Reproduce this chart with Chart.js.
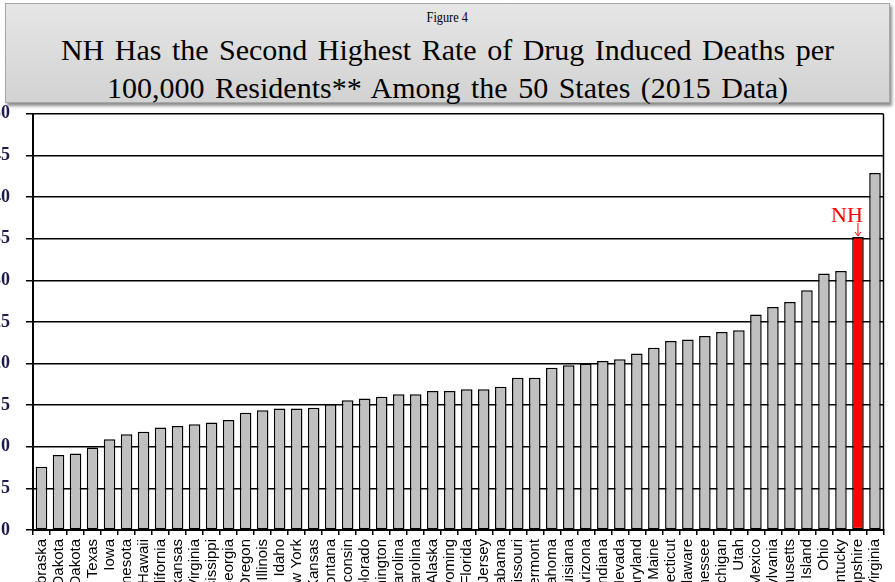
<!DOCTYPE html>
<html>
<head>
<meta charset="utf-8">
<script src="https://cdn.jsdelivr.net/npm/chart.js@4/dist/chart.umd.min.js"></script>
<style>
  html, body { margin: 0; padding: 0; width: 895px; height: 582px; overflow: hidden; background: #fff; }
  #title {
    position: absolute; left: 5px; top: 3px; width: 883px; height: 98px;
    background: linear-gradient(#e6e6e6, #d2d2d2);
    border: 1px solid #a8a8a8;
    box-shadow: 2px 3px 3px rgba(0,0,0,0.45);
    font-family: "Liberation Serif", "DejaVu Serif", serif; color: #000; text-align: center;
  }
  #fig { position: absolute; left: 0; right: 0; top: 5px; font-size: 15px; line-height: 17px; }
  #fig span { display: inline-block; transform: scaleX(0.82); }
  .t { position: absolute; left: 0; right: 0; font-size: 30px; line-height: 34px; word-spacing: 3px; white-space: nowrap; }
  #t1 { top: 29px; }
  #t2 { top: 67px; }
  #wrap { position: absolute; left: -20px; top: 87px; width: 917px; height: 543px; }
</style>
</head>
<body>
<div id="title">
  <div id="fig"><span>Figure 4</span></div>
  <div class="t" id="t1">NH Has the Second Highest Rate of Drug Induced Deaths per</div>
  <div class="t" id="t2">100,000 Residents** Among the 50 States (2015 Data)</div>
</div>
<div id="wrap"><canvas id="c" width="917" height="543"></canvas></div>
<script>
// Drug induced deaths per 100,000 residents, 2015, sorted ascending
const states = [
  'Nebraska', 'North Dakota', 'South Dakota', 'Texas', 'Iowa', 'Minnesota', 'Hawaii',
  'California', 'Arkansas', 'Virginia', 'Mississippi', 'Georgia', 'Oregon', 'Illinois',
  'Idaho', 'New York', 'Kansas', 'Montana', 'Wisconsin', 'Colorado', 'Washington',
  'North Carolina', 'South Carolina', 'Alaska', 'Wyoming', 'Florida', 'New Jersey',
  'Alabama', 'Missouri', 'Vermont', 'Oklahoma', 'Louisiana', 'Arizona', 'Indiana',
  'Nevada', 'Maryland', 'Maine', 'Connecticut', 'Delaware', 'Tennessee', 'Michigan',
  'Utah', 'New Mexico', 'Pennsylvania', 'Massachusetts', 'Rhode Island', 'Ohio',
  'Kentucky', 'New Hampshire', 'West Virginia'
];
const rates = [
  7.6, 9.0, 9.2, 9.9, 10.9, 11.5, 11.8,
  12.3, 12.5, 12.7, 12.9, 13.2, 14.1, 14.4,
  14.6, 14.6, 14.7, 15.1, 15.6, 15.8, 16.0,
  16.3, 16.3, 16.7, 16.7, 16.9, 16.9,
  17.2, 18.3, 18.3, 19.5, 19.8, 20.0, 20.3,
  20.5, 21.2, 21.9, 22.7, 22.9, 23.3, 23.8,
  24.0, 25.9, 26.8, 27.4, 28.8, 30.8,
  31.1, 35.2, 42.9
];
const yMin = 0, yMax = 50, yStep = 5;
const highlight = 'New Hampshire';
const highlightLabel = 'NH';

const fills = states.map(s => s === highlight ? '#ff0000' : '#c0c0c0');

// Red "NH" callout with a small arrow pointing at the highlighted bar
const callout = {
  id: 'callout',
  afterDatasetsDraw(chart) {
    const i = states.indexOf(highlight);
    const bar = chart.getDatasetMeta(0).data[i];
    if (!bar) return;
    const ctx = chart.ctx;
    ctx.save();
    ctx.fillStyle = '#ff0000';
    ctx.strokeStyle = '#ff0000';
    ctx.font = '22px "Liberation Serif", serif';
    ctx.textAlign = 'center';
    ctx.textBaseline = 'alphabetic';
    ctx.fillText(highlightLabel, bar.x - 11, bar.y - 15);
    ctx.lineWidth = 1;
    ctx.beginPath();
    ctx.moveTo(bar.x, bar.y - 14);
    ctx.lineTo(bar.x, bar.y - 1);
    ctx.moveTo(bar.x - 3, bar.y - 5);
    ctx.lineTo(bar.x, bar.y - 1);
    ctx.lineTo(bar.x + 3, bar.y - 5);
    ctx.stroke();
    ctx.restore();
  }
};

// Right edge of the plot frame
const frame = {
  id: 'frame',
  beforeDatasetsDraw(chart) {
    const a = chart.chartArea, ctx = chart.ctx;
    ctx.save();
    ctx.strokeStyle = '#000';
    ctx.lineWidth = 1.5;
    ctx.beginPath();
    ctx.moveTo(a.right, a.top);
    ctx.lineTo(a.right, a.bottom);
    ctx.stroke();
    ctx.restore();
  }
};

new Chart(document.getElementById('c'), {
  type: 'bar',
  data: {
    labels: states,
    datasets: [{
      data: rates,
      backgroundColor: fills,
      borderColor: '#000',
      borderWidth: 1.5,
      borderSkipped: false,
      categoryPercentage: 1,
      barPercentage: 0.68
    }]
  },
  options: {
    responsive: false,
    animation: false,
    devicePixelRatio: 1,
    layout: { padding: { top: 8, right: 2, left: 0, bottom: 0 } },
    plugins: { legend: { display: false }, tooltip: { enabled: false } },
    scales: {
      x: {
        grid: { display: true, drawOnChartArea: false, drawTicks: true, tickLength: 5, color: '#000', lineWidth: 1.5, offset: true },
        border: { color: '#000', width: 2 },
        ticks: {
          autoSkip: false, maxRotation: 90, minRotation: 90, padding: 4,
          color: '#000', font: { family: '"Liberation Sans", Arial, sans-serif', size: 15 }
        },
        afterFit(s) { s.height = 100; }
      },
      y: {
        min: yMin, max: yMax,
        grid: { color: '#000', lineWidth: 1.5, tickLength: 7 },
        border: { color: '#000', width: 2 },
        ticks: {
          stepSize: yStep, padding: 16, color: '#1c1c4e',
          font: { family: '"Liberation Serif", serif', size: 18, weight: 'bold' }
        },
        afterFit(s) { s.width = 53; }
      }
    }
  },
  plugins: [frame, callout]
});
</script>
</body>
</html>
